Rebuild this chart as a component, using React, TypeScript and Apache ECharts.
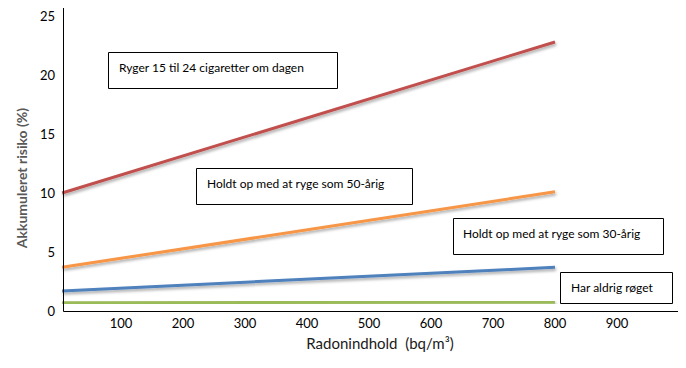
import React, { useEffect, useRef } from "react";
import * as echarts from "echarts";

const xStart = 5;
const xEnd = 800;
const seriesNames = [
  "Ryger 15 til 24 cigaretter om dagen",
  "Holdt op med at ryge som 50-årig",
  "Holdt op med at ryge som 30-årig",
  "Har aldrig røget",
];
const startValues = [10.0, 3.7, 1.7, 0.7];
const endValues = [22.8, 10.1, 3.7, 0.75];
const colors = ["#C0504D", "#F79646", "#4F81BD", "#9BBB59"];
const xTicks = [100, 200, 300, 400, 500, 600, 700, 800, 900];
const yTicks = [0, 5, 10, 15, 20, 25];
const yTitle = "Akkumuleret risiko (%)";
const xTitle = "Radonindhold  (bq/m³)";

const FONT = "Lato, 'Liberation Sans', sans-serif";

function boxLine(x0: number, y0: number, x1: number, y1: number) {
  return {
    type: "polyline",
    shape: {
      points: [
        [x0, y0],
        [x1, y0],
        [x1, y1],
        [x0, y1],
        [x0, y0],
      ],
    },
    style: { stroke: "#000", lineWidth: 1, fill: null },
    silent: true,
    z: 20,
  };
}

export default function App() {
  const ref = useRef<HTMLDivElement>(null);
  useEffect(() => {
    if (!ref.current) return;
    const chart = echarts.init(ref.current, null, { renderer: "svg" });
    const labelBoxes = [
      { x: 108, y: 52, w: 229, h: 36, tx: 119 },
      { x: 196, y: 168, w: 216, h: 36, tx: 207 },
      { x: 453, y: 218, w: 210, h: 36, tx: 463 },
      { x: 560, y: 272, w: 112, h: 31, tx: 571 },
    ];
    const graphics: any[] = [
      boxLine(3.5, 5.5, 678.5, 362.5),
      boxLine(63.5, 5.5, 678.5, 311.5),
      {
        type: "text",
        x: 21,
        y: 178,
        rotation: Math.PI / 2,
        style: {
          text: yTitle,
          fill: "#595959",
          font: `bold 14px ${FONT}`,
          align: "center",
          verticalAlign: "middle",
        },
        z: 20,
      },
      {
        type: "text",
        x: 380,
        y: 343,
        style: {
          text: xTitle,
          fill: "#1a1a1a",
          font: `15px ${FONT}`,
          align: "center",
          verticalAlign: "middle",
        },
        z: 20,
      },
    ];
    labelBoxes.forEach((b, i) => {
      graphics.push({
        type: "rect",
        shape: { x: b.x + 0.5, y: b.y + 0.5, width: b.w, height: b.h },
        style: { fill: "#fff", stroke: "#000", lineWidth: 1 },
        z: 10,
      });
      graphics.push({
        type: "text",
        x: b.tx,
        y: b.y + 15,
        style: {
          text: seriesNames[i],
          fill: "#000",
          font: `12px ${FONT}`,
          verticalAlign: "middle",
        },
        z: 11,
      });
    });
    chart.setOption({
      animation: false,
      backgroundColor: "#fff",
      grid: { left: 59, top: 16, width: 620, height: 295 },
      xAxis: {
        type: "value",
        min: 0,
        max: 1000,
        interval: 100,
        axisLine: { show: false },
        axisTick: { show: false },
        splitLine: { show: false },
        axisLabel: {
          margin: 5,
          color: "#000",
          fontSize: 13,
          fontFamily: FONT,
          formatter: (v: number) => (xTicks.includes(v) ? String(v) : ""),
        },
      },
      yAxis: {
        type: "value",
        min: 0,
        max: 25,
        interval: 5,
        axisLine: { show: false },
        axisTick: { show: false },
        splitLine: { show: false },
        axisLabel: {
          margin: 4,
          color: "#000",
          fontSize: 13,
          fontFamily: FONT,
          formatter: (v: number) => (yTicks.includes(v) ? String(v) : ""),
        },
      },
      graphic: graphics,
      series: seriesNames.map((n, i) => ({
        type: "line",
        name: n,
        showSymbol: false,
        symbol: "none",
        data: [
          [xStart, startValues[i]],
          [xEnd, endValues[i]],
        ],
        lineStyle: {
          color: colors[i],
          width: 3,
          shadowColor: "rgba(0,0,0,0.35)",
          shadowBlur: 3,
          shadowOffsetX: 1,
          shadowOffsetY: 2,
        },
        z: 5,
      })),
    });
    return () => chart.dispose();
  }, []);
  return <div ref={ref} style={{ width: 686, height: 368, margin: -8 }} />;
}
